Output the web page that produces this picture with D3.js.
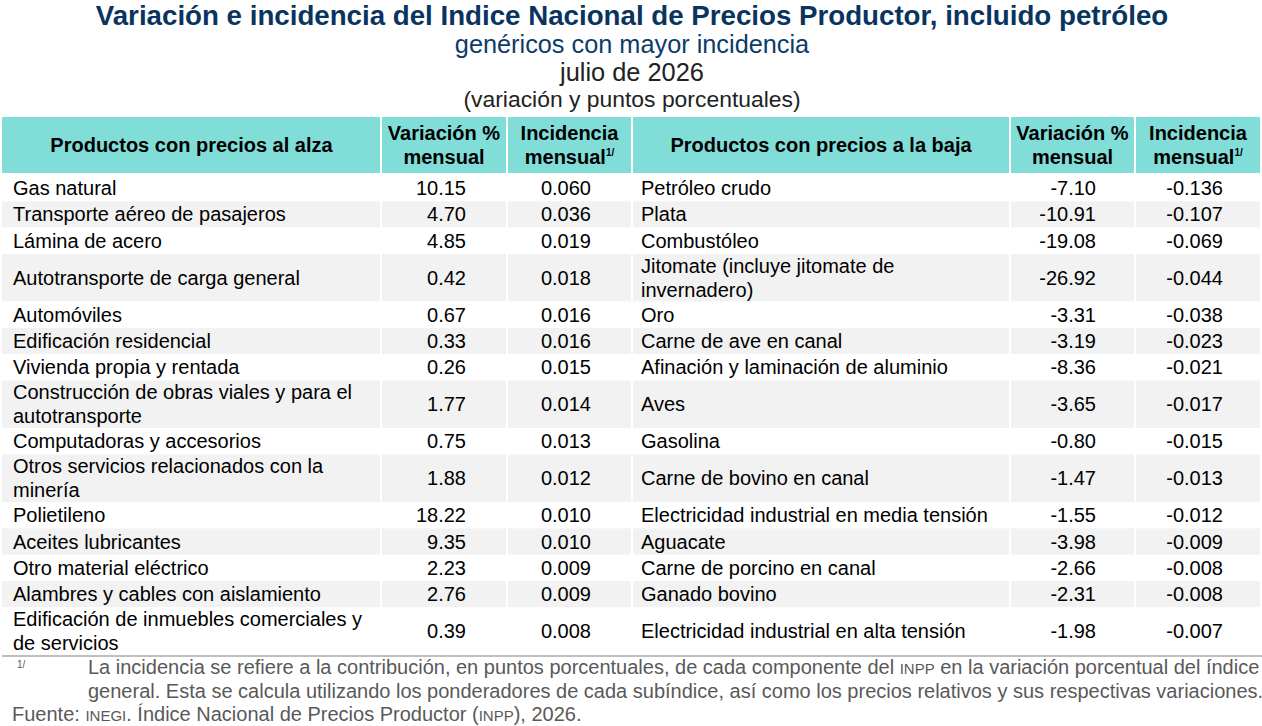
<!DOCTYPE html>
<html>
<head>
<meta charset="utf-8">
<script src="https://cdn.jsdelivr.net/npm/d3@7"></script>
<style>
  body { margin: 0; background: #ffffff; }
  svg { display: block; font-family: "Liberation Sans", Arial, sans-serif; }
</style>
</head>
<body>
<div id="chart"></div>
<script>
// datos del cuadro (| marca el salto de línea del texto)
const alzaNombres = ["Gas natural", "Transporte aéreo de pasajeros", "Lámina de acero",
    "Autotransporte de carga general", "Automóviles", "Edificación residencial",
    "Vivienda propia y rentada", "Construcción de obras viales y para el|autotransporte",
    "Computadoras y accesorios", "Otros servicios relacionados con la|minería", "Polietileno",
    "Aceites lubricantes", "Otro material eléctrico", "Alambres y cables con aislamiento",
    "Edificación de inmuebles comerciales y|de servicios"];
const alzaVariacion = [10.15, 4.70, 4.85, 0.42, 0.67, 0.33, 0.26, 1.77, 0.75, 1.88, 18.22, 9.35, 2.23, 2.76, 0.39];
const alzaIncidencia = [0.060, 0.036, 0.019, 0.018, 0.016, 0.016, 0.015, 0.014, 0.013, 0.012, 0.010, 0.010, 0.009, 0.009, 0.008];

const bajaNombres = ["Petróleo crudo", "Plata", "Combustóleo", "Jitomate (incluye jitomate de|invernadero)",
    "Oro", "Carne de ave en canal", "Afinación y laminación de aluminio", "Aves", "Gasolina",
    "Carne de bovino en canal", "Electricidad industrial en media tensión", "Aguacate",
    "Carne de porcino en canal", "Ganado bovino", "Electricidad industrial en alta tensión"];
const bajaVariacion = [-7.10, -10.91, -19.08, -26.92, -3.31, -3.19, -8.36, -3.65, -0.80, -1.47, -1.55, -3.98, -2.66, -2.31, -1.98];
const bajaIncidencia = [-0.136, -0.107, -0.069, -0.044, -0.038, -0.023, -0.021, -0.017, -0.015, -0.013, -0.012, -0.009, -0.008, -0.008, -0.007];

const encabezados = ["Productos con precios al alza", "Variación %|mensual", "Incidencia|mensual",
    "Productos con precios a la baja", "Variación %|mensual", "Incidencia|mensual"];

const width = 1262, height = 726;
const navy = "#0a3460", teal = "#80ddd8", gris = "#f2f2f2", grisTexto = "#595959";

const loc = d3.formatLocale({decimal: ".", thousands: ",", grouping: [3], currency: ["$", ""], minus: "-"});
const f2 = loc.format(".2f"), f3 = loc.format(".3f");

const svg = d3.select("#chart").append("svg")
    .attr("width", width).attr("height", height);

// títulos
const titulos = [
    {t: "Variación e incidencia del Indice Nacional de Precios Productor, incluido petróleo", y: 25, s: 27.7, w: "bold", c: navy},
    {t: "genéricos con mayor incidencia", y: 53, s: 25.3, w: "normal", c: "#0c3b68"},
    {t: "julio de 2026", y: 81, s: 25.4, w: "normal", c: "#222"},
    {t: "(variación y puntos porcentuales)", y: 107, s: 22.9, w: "normal", c: "#222"}
];
svg.selectAll("text.titulo").data(titulos).join("text")
    .attr("class", "titulo")
    .attr("x", 632).attr("y", d => d.y)
    .attr("text-anchor", "middle")
    .attr("font-size", d => d.s).attr("font-weight", d => d.w)
    .attr("fill", d => d.c)
    .text(d => d.t);

// columnas
const bordes = [2, 381, 507, 632, 1010, 1135, 1261];
const col = i => ({x0: bordes[i], x1: bordes[i + 1]});

// filas: alto según número de renglones
const filas = alzaNombres.map((n, i) => {
    const lineas = Math.max(n.split("|").length, bajaNombres[i].split("|").length);
    return {i: i, unidades: lineas > 1 ? 1.81 : 1};
});
let acum = 0;
filas.forEach(r => { r.u0 = acum; acum += r.unidades; r.u1 = acum; });
const y = d3.scaleLinear().domain([0, acum]).range([175, 655]);

// encabezado
const head = svg.append("g");
head.selectAll("rect").data(encabezados).join("rect")
    .attr("x", (d, i) => col(i).x0 + (i ? 1 : 0))
    .attr("width", (d, i) => col(i).x1 - col(i).x0 - (i ? 2 : 1))
    .attr("y", 117).attr("height", 56)
    .attr("fill", teal);

head.selectAll("text").data(encabezados).join("text")
    .attr("text-anchor", "middle")
    .attr("font-weight", "bold").attr("font-size", 20)
    .attr("fill", "#000")
    .each(function(d, i) {
        const lineas = d.split("|");
        const cx = (col(i).x0 + col(i).x1) / 2;
        const t = d3.select(this);
        lineas.forEach((l, k) => {
            t.append("tspan")
                .attr("x", cx)
                .attr("y", lineas.length > 1 ? 140 + k * 24 : 152)
                .text(l);
            if (k === 1 && i % 3 === 2) {
                t.append("tspan").attr("font-size", 10).attr("dy", -8).text("1/");
            }
        });
    });

// cuerpo
const celdas = [];
filas.forEach(r => {
    const i = r.i;
    celdas.push({r: r, c: 0, t: alzaNombres[i], anchor: "start"});
    celdas.push({r: r, c: 1, t: f2(alzaVariacion[i]), anchor: "end"});
    celdas.push({r: r, c: 2, t: f3(alzaIncidencia[i]), anchor: "end"});
    celdas.push({r: r, c: 3, t: bajaNombres[i], anchor: "start"});
    celdas.push({r: r, c: 4, t: f2(bajaVariacion[i]), anchor: "end"});
    celdas.push({r: r, c: 5, t: f3(bajaIncidencia[i]), anchor: "end"});
});

// posición horizontal del texto dentro de cada columna
const textoX = [13, 466, 591, 641, 1096, 1223];

const body = svg.append("g");
body.selectAll("rect").data(celdas).join("rect")
    .attr("x", d => col(d.c).x0 + (d.c ? 1 : 0))
    .attr("width", d => col(d.c).x1 - col(d.c).x0 - (d.c ? 2 : 1))
    .attr("y", d => y(d.r.u0))
    .attr("height", d => y(d.r.u1) - y(d.r.u0))
    .attr("fill", d => d.r.i % 2 ? gris : "#ffffff");

body.selectAll("text").data(celdas).join("text")
    .attr("text-anchor", d => d.anchor)
    .attr("font-size", 20).attr("fill", "#000")
    .each(function(d) {
        const lineas = d.t.split("|");
        const cy = (y(d.r.u0) + y(d.r.u1)) / 2;
        const t = d3.select(this);
        lineas.forEach((l, k) => {
            t.append("tspan")
                .attr("x", textoX[d.c])
                .attr("y", cy + 7 + (k - (lineas.length - 1) / 2) * 24)
                .text(l);
        });
    });

// línea inferior
svg.append("line")
    .attr("x1", 2).attr("x2", 1262)
    .attr("y1", 656).attr("y2", 656)
    .attr("stroke", "#bfbfbf").attr("stroke-width", 2);

// notas
const notas = svg.append("g").attr("fill", grisTexto).attr("font-size", 20);
notas.append("text").attr("x", 17).attr("y", 668).attr("font-size", 10).text("1/");

const nota1 = notas.append("text").attr("x", 88).attr("y", 674);
nota1.append("tspan").text("La incidencia se refiere a la contribución, en puntos porcentuales, de cada componente del ");
nota1.append("tspan").attr("font-size", 15).text("INPP");
nota1.append("tspan").text(" en la variación porcentual del índice");

notas.append("text").attr("x", 88).attr("y", 698)
    .text("general. Esta se calcula utilizando los ponderadores de cada subíndice, así como los precios relativos y sus respectivas variaciones.");

const fuente = notas.append("text").attr("x", 12).attr("y", 721);
fuente.append("tspan").text("Fuente: ");
fuente.append("tspan").attr("font-size", 15).text("INEGI");
fuente.append("tspan").text(". Índice Nacional de Precios Productor (");
fuente.append("tspan").attr("font-size", 15).text("INPP");
fuente.append("tspan").text("), 2026.");
</script>
</body>
</html>
